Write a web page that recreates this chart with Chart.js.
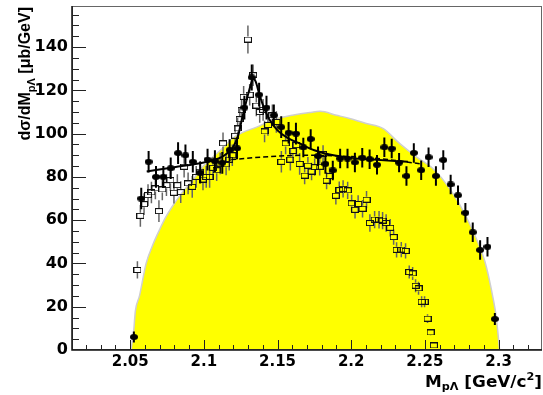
<!DOCTYPE html>
<html>
<head>
<meta charset="utf-8">
<script src="https://cdn.jsdelivr.net/npm/chart.js@4/dist/chart.umd.min.js"></script>
<style>
  body { margin: 0; background: #fff; }
</style>
</head>
<body>
<canvas id="c" width="543" height="395"></canvas>
<script>
// filled circles: bin centres, cross section, error
var circleX = [2.0525, 2.0575, 2.0625, 2.0675, 2.0725, 2.0775, 2.0825, 2.0875, 2.0925, 2.0975,
               2.1025, 2.1075, 2.1125, 2.1175, 2.1225, 2.1275, 2.1325, 2.1375, 2.1425, 2.1475,
               2.1525, 2.1575, 2.1625, 2.1675, 2.1725, 2.1775, 2.1825, 2.1875, 2.1925, 2.1975,
               2.2025, 2.2075, 2.2125, 2.2175, 2.2225, 2.2275, 2.2325, 2.2375, 2.2425, 2.2475,
               2.2525, 2.2575, 2.2625, 2.2675, 2.2725, 2.2775, 2.2825, 2.2875, 2.2925, 2.2975];
var circleY = [6, 70, 87, 80, 80, 84, 91, 90, 87, 82,
               88, 87.3, 86.5, 92.4, 93.2, 112, 126, 118, 112, 108.5,
               103, 100.4, 100, 93.6, 97.5, 89.6, 86, 83, 88.5, 88.5,
               86.7, 88.9, 88.2, 85.6, 93.7, 93.1, 86.6, 80.4, 91.1, 83.1,
               89.1, 80.4, 87.8, 76.5, 71.5, 63.4, 54.4, 46.2, 47.7, 14.3];
var circleErr = [2.5, 5, 5, 5, 5, 5, 5, 5, 5, 5,
                 5, 5, 5, 5, 5, 5.5, 6, 5.5, 5.5, 5,
                 5, 5, 5, 4.5, 4.5, 4.5, 4.5, 4.5, 4.5, 4.5,
                 4.5, 4.5, 4.5, 4.5, 4.5, 4.5, 4.5, 4.5, 4.5, 4.5,
                 4.5, 4.5, 4.5, 4.5, 4.5, 4.5, 4.5, 4.5, 4.5, 2.8];

// open squares
var squareX = [2.0549, 2.0569, 2.0594, 2.0621, 2.0644, 2.0671, 2.0695, 2.0718, 2.0746, 2.0773,
               2.0797, 2.0820, 2.0843, 2.0866, 2.0893, 2.0921, 2.0948, 2.0975, 2.0994, 2.1016,
               2.1039, 2.1062, 2.1087, 2.1111, 2.1130, 2.1151, 2.1172, 2.1193, 2.1212, 2.1229,
               2.1243, 2.1256, 2.1270, 2.1299, 2.1311, 2.1334, 2.1356, 2.1379, 2.1402, 2.1412,
               2.1435, 2.1465, 2.1492, 2.1526, 2.1555, 2.1587, 2.1604, 2.1628, 2.1650, 2.1684,
               2.1706, 2.1731, 2.1752, 2.1786, 2.1809, 2.1833, 2.1853, 2.1896, 2.1919, 2.1945,
               2.1976, 2.2003, 2.2026, 2.2047, 2.2077, 2.2104, 2.2127, 2.2159, 2.2189, 2.2213,
               2.2237, 2.2265, 2.2288, 2.2308, 2.2340, 2.2369, 2.2394, 2.2417, 2.2437, 2.2457,
               2.2478, 2.2498, 2.2518, 2.2539, 2.2561];
var squareY = [37, 62, 67.4, 71.6, 72.8, 74.7, 64.2, 74.2, 76.2, 78.5,
               72.7, 76.2, 73, 84.7, 77, 75.4, 80, 82.4, 78.8, 80,
               80, 84.2, 83.1, 86.2, 95.5, 85.8, 88, 90, 99, 102.4,
               106.7, 110.9, 117, 143.5, 118, 127, 113, 110, 111, 101,
               104, 108.5, 105.4, 87, 95.5, 88, 92, 94.7, 86, 80.6,
               85.2, 82.5, 84.5, 84.7, 90.6, 78.3, 80.4, 71.3, 73.9, 74.5,
               73.8, 67.8, 64.8, 67.5, 65.3, 69.5, 58.7, 60.3, 60.2, 59.8,
               58.7, 56.5, 52.2, 46.3, 46.4, 45.8, 36, 35.4, 29.7, 28.5,
               22.3, 22.3, 14.5, 8.1, 2.1];
var squareErr = [4, 5, 5, 5, 5, 5, 5, 5, 5, 5,
                 5, 5, 5, 5, 5, 5, 5, 5, 5, 5,
                 5, 5, 5, 5, 5, 5, 5, 5, 5, 5,
                 5, 5, 5, 6.5, 5, 5, 5, 5, 5, 5,
                 5, 5, 5, 5, 5, 5, 5, 5, 5, 4,
                 4, 4, 4, 4, 4, 4, 4, 4, 4, 4,
                 4, 4, 4, 4, 4, 4, 4, 4, 4, 4,
                 4, 4, 3.5, 3.5, 3.5, 3.5, 3, 3, 3, 3,
                 2.5, 2.5, 2, 1.5, 1];

// yellow phase-space shape
var psX = [2.0505, 2.0524, 2.0535, 2.0563, 2.0608, 2.0653, 2.0698, 2.0743, 2.0800, 2.0856,
           2.0924, 2.0992, 2.1062, 2.1130, 2.1197, 2.1260, 2.1358, 2.1470, 2.1600, 2.1720,
           2.1790, 2.1900, 2.1989, 2.2102, 2.2215, 2.2328, 2.2442, 2.2554, 2.2668, 2.2781,
           2.2893, 2.2917, 2.2961, 2.2984, 2.3007];
var psY = [0, 9, 18, 25, 40, 48.5, 55.4, 61.6, 67.8, 73.1,
           78.5, 84.7, 89.3, 93.5, 98, 100.5, 103, 106.5, 108.5, 109.8,
           110.3, 108.5, 107, 104.7, 102.4, 95.5, 89.3, 83.9, 74.7, 61.6,
           43.9, 38.5, 24.6, 15.4, 0];

// fit curve (solid) and background (dashed)
var fitX = [2.0612, 2.0800, 2.1000, 2.1100, 2.1150, 2.1195, 2.1230, 2.1258, 2.1292, 2.1318,
            2.1335, 2.1352, 2.1378, 2.1405, 2.1445, 2.1500, 2.1568, 2.1650, 2.1750, 2.1862,
            2.2000, 2.2150, 2.2300, 2.2385];
var fitY = [82.5, 84.5, 86.7, 88.5, 90.5, 93.5, 98.5, 106.5, 116, 122.5,
            125.5, 124, 117.8, 112.5, 106.5, 101.5, 98, 95.5, 92.3, 90.2,
            88.8, 88, 87.3, 87];
var bgX = [2.1186, 2.1400, 2.1700, 2.2000, 2.2250, 2.2475];
var bgY = [88, 89.2, 90, 89.4, 88, 86];

var xTicks = [2.05, 2.1, 2.15, 2.2, 2.25, 2.3];
var xTickLabels = ['2.05', '2.1', '2.15', '2.2', '2.25', '2.3'];
var yTicks = [0, 20, 40, 60, 80, 100, 120, 140];
var yTickLabels = ['0', '20', '40', '60', '80', '100', '120', '140'];

function pts(xs, ys) {
  return xs.map(function (x, i) { return { x: x, y: ys[i] }; });
}

function makeMarker(w, h, draw) {
  var c = document.createElement('canvas');
  c.width = w; c.height = h;
  draw(c.getContext('2d'), w, h);
  return c;
}
var dotMarker = makeMarker(8, 6, function (g, w, h) {
  g.fillStyle = '#000';
  g.beginPath();
  g.ellipse(w / 2, h / 2, w / 2, h / 2, 0, 0, Math.PI * 2);
  g.fill();
});
var boxMarker = makeMarker(8, 6, function (g, w, h) {
  g.strokeStyle = '#111';
  g.lineWidth = 1;
  g.strokeRect(0.5, 0.5, w - 1, h - 1);
});

// vertical error bars, drawn just before their dataset
var errorBars = {
  id: 'errorBars',
  beforeDatasetDraw: function (chart, args) {
    var ds = chart.data.datasets[args.index];
    if (!ds.errors) return;
    var ctx = chart.ctx, xs = chart.scales.x, ys = chart.scales.y;
    ctx.save();
    ctx.strokeStyle = ds.errorColor;
    ctx.lineWidth = ds.errorWidth;
    ctx.beginPath();
    ds.data.forEach(function (p, i) {
      var px = xs.getPixelForValue(p.x);
      var py = ys.getPixelForValue(p.y);
      var lo = ys.getPixelForValue(p.y - ds.errors[i]);
      var hi = ys.getPixelForValue(p.y + ds.errors[i]);
      var gap = ds.errorGap;
      if (lo > py + gap) { ctx.moveTo(px, py + gap); ctx.lineTo(px, lo); }
      if (hi < py - gap) { ctx.moveTo(px, py - gap); ctx.lineTo(px, hi); }
    });
    ctx.stroke();
    ctx.restore();
  }
};

// ROOT-like frame with ticks pointing inward
var frameTicks = {
  id: 'frameTicks',
  afterDatasetsDraw: function (chart) {
    var ctx = chart.ctx, a = chart.chartArea, xs = chart.scales.x, ys = chart.scales.y;
    ctx.save();
    ctx.strokeStyle = '#222';
    ctx.lineWidth = 1;
    ctx.beginPath();
    for (var v = 5; v < ys.max; v += 5) {
      var py = Math.round(ys.getPixelForValue(v)) + 0.5;
      var len = (v % 20 === 0) ? 14 : 7;
      ctx.moveTo(a.left, py); ctx.lineTo(a.left + len, py);
    }
    for (var i = 202; i <= 232; i++) {
      var px = Math.round(xs.getPixelForValue(i / 100)) + 0.5;
      var len2 = (i % 5 === 0) ? 10 : 5;
      ctx.moveTo(px, a.bottom); ctx.lineTo(px, a.bottom - len2);
    }
    ctx.stroke();
    ctx.strokeStyle = '#666';
    ctx.strokeRect(a.left + 0.5, a.top + 0.5, a.right - a.left - 1, a.bottom - a.top - 1);
    ctx.strokeStyle = '#111';
    ctx.lineWidth = 1.5;
    ctx.beginPath();
    ctx.moveTo(a.left, a.top); ctx.lineTo(a.left, a.bottom); ctx.lineTo(a.right, a.bottom);
    ctx.stroke();
    ctx.restore();
  }
};

function drawParts(ctx, parts, family) {
  var x = 0;
  parts.forEach(function (p) {
    ctx.font = 'bold ' + p.size + 'px ' + family;
    ctx.fillText(p.t, x, p.dy);
    x += ctx.measureText(p.t).width;
  });
}
function partsWidth(ctx, parts, family) {
  var w = 0;
  parts.forEach(function (p) {
    ctx.font = 'bold ' + p.size + 'px ' + family;
    w += ctx.measureText(p.t).width;
  });
  return w;
}

var axisTitles = {
  id: 'axisTitles',
  afterDraw: function (chart) {
    var ctx = chart.ctx, a = chart.chartArea;
    ctx.save();
    ctx.fillStyle = '#000';
    ctx.textBaseline = 'alphabetic';
    ctx.textAlign = 'left';

    var yParts = [{ t: 'd\u03c3/dM', size: 16, dy: 0 }, { t: 'p\u039b', size: 11, dy: 5 },
                  { t: ' [\u03bcb/GeV]', size: 16, dy: 0 }];
    var yFam = '"Liberation Sans", Arial, sans-serif';
    var yw = partsWidth(ctx, yParts, yFam);
    ctx.save();
    ctx.translate(29.5, a.top + 1 + yw);
    ctx.rotate(-Math.PI / 2);
    drawParts(ctx, yParts, yFam);
    ctx.restore();

    var xParts = [{ t: 'M', size: 15, dy: 0 }, { t: 'p\u039b', size: 10, dy: 3 },
                  { t: ' [GeV/c', size: 15, dy: 0 }, { t: '2', size: 10, dy: -7 },
                  { t: ']', size: 15, dy: 0 }];
    var xFam = '"DejaVu Sans", sans-serif';
    var xw = partsWidth(ctx, xParts, xFam);
    var sx = 117 / xw;
    ctx.save();
    ctx.translate(a.right - 117, 387);
    ctx.scale(sx, 1);
    drawParts(ctx, xParts, xFam);
    ctx.restore();

    ctx.restore();
  }
};

function noPadding(s) {
  s.paddingTop = 0; s.paddingBottom = 0; s.paddingLeft = 0; s.paddingRight = 0;
}

var ctx = document.getElementById('c').getContext('2d');
var chart = new Chart(ctx, {
  type: 'scatter',
  data: {
    datasets: [
      {
        type: 'line',
        data: pts(psX, psY),
        fill: 'origin',
        backgroundColor: '#ffff00',
        borderColor: '#cfcfcf',
        borderWidth: 1.5,
        pointRadius: 0,
        cubicInterpolationMode: 'monotone',
        order: 5
      },
      {
        type: 'scatter',
        data: pts(squareX, squareY),
        pointStyle: boxMarker,
        pointRadius: 4,
        errors: squareErr,
        errorColor: '#666',
        errorWidth: 1.5,
        errorGap: 3,
        order: 4
      },
      {
        type: 'scatter',
        data: pts(circleX, circleY),
        pointStyle: dotMarker,
        pointRadius: 4,
        errors: circleErr,
        errorColor: '#000',
        errorWidth: 2,
        errorGap: 0,
        order: 3
      },
      {
        type: 'line',
        data: pts(bgX, bgY),
        borderColor: '#000',
        borderWidth: 1.5,
        borderDash: [5, 3],
        pointRadius: 0,
        fill: false,
        cubicInterpolationMode: 'monotone',
        order: 2
      },
      {
        type: 'line',
        data: pts(fitX, fitY),
        borderColor: '#000',
        borderWidth: 2,
        pointRadius: 0,
        fill: false,
        cubicInterpolationMode: 'monotone',
        order: 1
      }
    ]
  },
  options: {
    responsive: false,
    animation: false,
    events: [],
    layout: { autoPadding: false, padding: { left: 0, top: 6, right: 1, bottom: 0 } },
    plugins: { legend: { display: false }, tooltip: { enabled: false } },
    scales: {
      x: {
        type: 'linear',
        min: 2.0105,
        max: 2.3295,
        grid: { display: false, drawTicks: false },
        border: { display: false },
        afterFit: function (s) { s.height = 45; noPadding(s); },
        afterBuildTicks: function (s) { s.ticks = xTicks.map(function (v) { return { value: v }; }); },
        ticks: {
          padding: 3,
          color: '#000',
          font: { family: '"DejaVu Sans", sans-serif', weight: 'bold', size: 15 },
          callback: function (v) { var i = xTicks.indexOf(v); return i < 0 ? '' : xTickLabels[i]; }
        }
      },
      y: {
        min: 0,
        max: 159,
        grid: { display: false, drawTicks: false },
        border: { display: false },
        afterFit: function (s) { s.width = 72; noPadding(s); },
        afterBuildTicks: function (s) { s.ticks = yTicks.map(function (v) { return { value: v }; }); },
        ticks: {
          padding: 4,
          color: '#000',
          font: { family: '"DejaVu Sans", sans-serif', weight: 'bold', size: 16 },
          callback: function (v) { var i = yTicks.indexOf(v); return i < 0 ? '' : yTickLabels[i]; }
        }
      }
    }
  },
  plugins: [errorBars, frameTicks, axisTitles]
});
</script>
</body>
</html>
